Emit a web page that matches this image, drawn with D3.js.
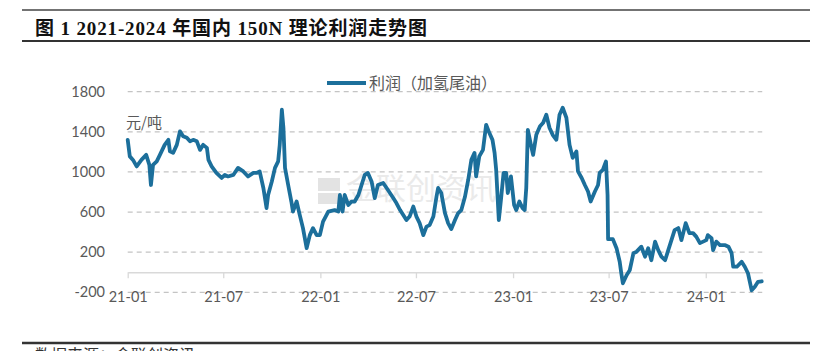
<!DOCTYPE html>
<html><head><meta charset="utf-8">
<script src="https://cdn.jsdelivr.net/npm/d3@7"></script>
<style>html,body{margin:0;padding:0;background:#fff;}svg{display:block;}</style>
</head><body>
<svg id="c" width="827" height="351"></svg>
<script>
const title = "图 1 2021-2024 年国内 150N 理论利润走势图";
const seriesName = "利润（加氢尾油）";
const unitLabel = "元/吨";
const footer = "数据来源：金联创资讯";
const watermark = "金联创资讯";
const yTicks = [-200, 200, 600, 1000, 1400, 1800];
const xTickDates = ["2021-01-01","2021-07-01","2022-01-01","2022-07-01","2023-01-01","2023-07-01","2024-01-01"];
const xTickLabels = ["21-01","21-07","22-01","22-07","23-01","23-07","24-01"];
const dates = [
"2021-01-01","2021-01-05","2021-01-11","2021-01-18","2021-01-27","2021-02-05","2021-02-11","2021-02-14","2021-02-18","2021-02-25",
"2021-03-03","2021-03-12","2021-03-19","2021-03-22","2021-03-28","2021-04-04","2021-04-10","2021-04-16","2021-04-23","2021-04-29",
"2021-05-05","2021-05-12","2021-05-18","2021-05-24","2021-05-31","2021-06-03","2021-06-09","2021-06-18","2021-06-28","2021-07-04",
"2021-07-10","2021-07-20","2021-07-29","2021-08-08","2021-08-17","2021-08-27","2021-09-02","2021-09-08","2021-09-15","2021-09-21",
"2021-09-24","2021-10-01","2021-10-07","2021-10-13","2021-10-16","2021-10-20","2021-10-23","2021-10-26","2021-11-01","2021-11-07",
"2021-11-10","2021-11-17","2021-11-23","2021-11-29","2021-12-06","2021-12-12","2021-12-18","2021-12-25","2021-12-31","2022-01-06",
"2022-01-16","2022-01-28","2022-02-04","2022-02-07","2022-02-12","2022-02-16","2022-02-23","2022-03-01","2022-03-07","2022-03-14",
"2022-03-20","2022-03-26","2022-04-01","2022-04-08","2022-04-14","2022-04-20","2022-04-30","2022-05-09","2022-05-19","2022-05-25",
"2022-06-01","2022-06-07","2022-06-13","2022-06-19","2022-06-26","2022-07-02","2022-07-08","2022-07-15","2022-07-21","2022-07-27",
"2022-08-03","2022-08-09","2022-08-12","2022-08-18","2022-08-25","2022-08-31","2022-09-06","2022-09-13","2022-09-19","2022-09-25",
"2022-10-02","2022-10-08","2022-10-14","2022-10-20","2022-10-23","2022-10-29","2022-11-05","2022-11-11","2022-11-17","2022-11-23",
"2022-11-27","2022-11-30","2022-12-05","2022-12-09","2022-12-14","2022-12-19","2022-12-22","2022-12-28","2023-01-03","2023-01-07",
"2023-01-13","2023-01-19","2023-01-23","2023-01-26","2023-01-29","2023-02-05","2023-02-08","2023-02-14","2023-02-21","2023-02-27",
"2023-03-05","2023-03-11","2023-03-17","2023-03-24","2023-03-30","2023-04-05","2023-04-12","2023-04-18","2023-04-24","2023-05-01",
"2023-05-04","2023-05-11","2023-05-17","2023-05-23","2023-05-28","2023-06-05","2023-06-11","2023-06-14","2023-06-20","2023-06-26",
"2023-06-29","2023-06-30","2023-07-09","2023-07-16","2023-07-22","2023-07-25","2023-07-28","2023-08-04","2023-08-10","2023-08-17",
"2023-08-23","2023-09-01","2023-09-08","2023-09-14","2023-09-20","2023-09-27","2023-10-03","2023-10-09","2023-10-16","2023-10-22",
"2023-10-28","2023-11-03","2023-11-10","2023-11-16","2023-11-24","2023-12-01","2023-12-08","2023-12-14","2023-12-21","2024-01-02",
"2024-01-05","2024-01-12","2024-01-15","2024-01-21","2024-01-28","2024-02-07","2024-02-13","2024-02-19","2024-02-22","2024-02-29",
"2024-03-09","2024-03-15","2024-03-21","2024-03-28","2024-04-03","2024-04-09","2024-04-16"
];
const profit = [
1320,1155,1120,1055,1120,1170,1070,870,1070,1105,
1170,1270,1320,1205,1190,1270,1405,1355,1340,1305,
1320,1305,1220,1270,1240,1120,1055,990,940,970,
955,970,1040,1005,955,990,990,1005,840,640,
770,905,1040,1105,1270,1620,1440,1040,870,705,
605,705,570,440,240,370,440,370,370,505,
605,620,605,770,605,770,670,705,705,770,
870,970,990,905,740,870,890,820,740,690,
620,570,520,555,655,555,490,370,455,470,
555,755,840,790,590,490,430,520,590,620,
755,920,1120,1190,955,1155,1220,1470,1390,1320,
1190,1020,520,720,990,990,790,955,670,620,
705,640,620,840,1420,1240,1170,1370,1455,1490,
1570,1440,1370,1320,1570,1640,1540,1270,1140,1205,
1005,940,870,805,705,805,870,990,1020,1105,
770,330,330,240,105,-10,-110,-30,20,190,
205,255,155,240,120,305,220,155,120,220,
320,420,440,320,490,390,390,355,290,320,
370,340,220,305,270,270,255,190,55,55,
105,55,-10,-180,-145,-95,-90
];

const parse = d3.utcParse("%Y-%m-%d");
const data = dates.map((d, i) => ({date: parse(d), v: profit[i]}));

const svg = d3.select("#c");
const x0 = 127.7, pxPerDay = 0.5279;
const xStart = parse("2021-01-01"), xEnd = parse("2024-04-17");
const nDays = (xEnd - xStart) / 864e5;
const x = d3.scaleUtc().domain([xStart, xEnd]).range([x0, x0 + nDays * pxPerDay]);
const y = d3.scaleLinear().domain([-200, 1800]).range([292.3, 91.7]);
const [xl, xr] = x.range();

// frame lines
svg.append("line").attr("x1", 22).attr("x2", 810).attr("y1", 10).attr("y2", 10).attr("stroke", "#444").attr("stroke-width", 1.5);
svg.append("line").attr("x1", 22).attr("x2", 810).attr("y1", 41).attr("y2", 41).attr("stroke", "#333").attr("stroke-width", 2);
svg.append("line").attr("x1", 22).attr("x2", 810).attr("y1", 343).attr("y2", 343).attr("stroke", "#333").attr("stroke-width", 2.5);
svg.append("text").attr("x", 35).attr("y", 35).text(title)
  .attr("font-family", "'Liberation Serif', 'Noto Sans CJK SC', serif").attr("font-size", 19).attr("font-weight", "bold")
  .attr("fill", "#111").attr("textLength", 392).attr("lengthAdjust", "spacing");
svg.append("text").attr("x", 35).attr("y", 361).text(footer)
  .attr("font-family", "'Noto Sans CJK SC', sans-serif").attr("font-size", 16).attr("fill", "#333");

// watermark
const wm = svg.append("g").attr("opacity", 0.5);
wm.append("rect").attr("x", 318).attr("y", 178).attr("width", 22).attr("height", 13).attr("fill", "#c8c8c8");
wm.append("rect").attr("x", 318).attr("y", 193).attr("width", 22).attr("height", 11).attr("fill", "#c8c8c8");
wm.append("text").attr("x", 346).attr("y", 199).text(watermark)
  .attr("font-family", "'Noto Sans CJK SC', sans-serif").attr("font-size", 30).attr("fill", "#d6d6d6");

// gridlines
svg.append("g").selectAll("line").data(yTicks).join("line")
  .attr("x1", xl).attr("x2", xr).attr("y1", d => y(d)).attr("y2", d => y(d))
  .attr("stroke", "#c4c4c4").attr("stroke-width", 1.3).attr("stroke-dasharray", "5,4");

// y labels
svg.append("g").selectAll("text").data(yTicks).join("text")
  .attr("x", 105).attr("y", d => y(d)).attr("dy", "0.35em").attr("text-anchor", "end")
  .attr("font-family", "Lato, 'Noto Sans CJK SC', sans-serif").attr("font-size", 14.5).attr("fill", "#595959")
  .text(d => d);

// x axis at zero
const xAxis = d3.axisBottom(x).tickValues(xTickDates.map(parse))
  .tickFormat((d, i) => xTickLabels[i]).tickSize(6).tickSizeOuter(0).tickPadding(13);
const gx = svg.append("g").attr("transform", `translate(0,${y(0)})`).call(xAxis);
gx.select(".domain").attr("stroke", "#d9d9d9").attr("stroke-width", 1.3);
gx.selectAll(".tick line").attr("stroke", "#d9d9d9").attr("stroke-width", 1.3);
gx.selectAll(".tick text").attr("font-family", "Lato, sans-serif").attr("font-size", 14.5).attr("fill", "#595959");

// unit
svg.append("text").attr("x", 126).attr("y", 128).text(unitLabel)
  .attr("font-family", "'Noto Sans CJK SC', sans-serif").attr("font-size", 15).attr("fill", "#595959");

// legend
const lineColor = "#1c6f9b";
svg.append("line").attr("x1", 327).attr("x2", 366).attr("y1", 83).attr("y2", 83).attr("stroke", lineColor).attr("stroke-width", 3.8);
svg.append("text").attr("x", 369).attr("y", 89).text(seriesName)
  .attr("font-family", "'Noto Sans CJK SC', sans-serif").attr("font-size", 16).attr("fill", "#595959");

// series
const line = d3.line().x(d => x(d.date)).y(d => y(d.v)).curve(d3.curveLinear);
svg.append("path").datum(data).attr("d", line).attr("fill", "none")
  .attr("stroke", lineColor).attr("stroke-width", 3.8).attr("stroke-linejoin", "round").attr("stroke-linecap", "round");
</script>
</body></html>
